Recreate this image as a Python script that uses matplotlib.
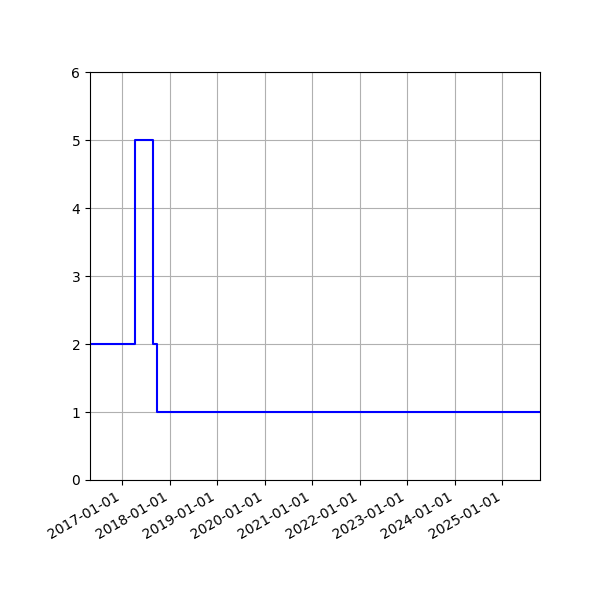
import matplotlib
matplotlib.use("Agg")
import matplotlib.pyplot as plt
import matplotlib.dates as mdates
import numpy as np

dates = np.array(["2016-04-28", "2017-04-06", "2017-08-25", "2017-09-25", "2025-10-18"], dtype="datetime64[D]")
values = [2, 5, 2, 1, 1]

fig, ax = plt.subplots(figsize=(6, 6), dpi=100)
ax.plot(dates, values, drawstyle="steps-post", color="blue")
ax.set_xlim(dates[0], dates[-1])
ax.set_ylim(0, 6)
ax.xaxis.set_major_locator(mdates.YearLocator())
ax.xaxis.set_major_formatter(mdates.DateFormatter("%Y-%m-%d"))
ax.grid(True)
fig.autofmt_xdate()
fig.subplots_adjust(left=0.15, right=0.9, top=0.88, bottom=0.2)
fig.savefig("out.png")
